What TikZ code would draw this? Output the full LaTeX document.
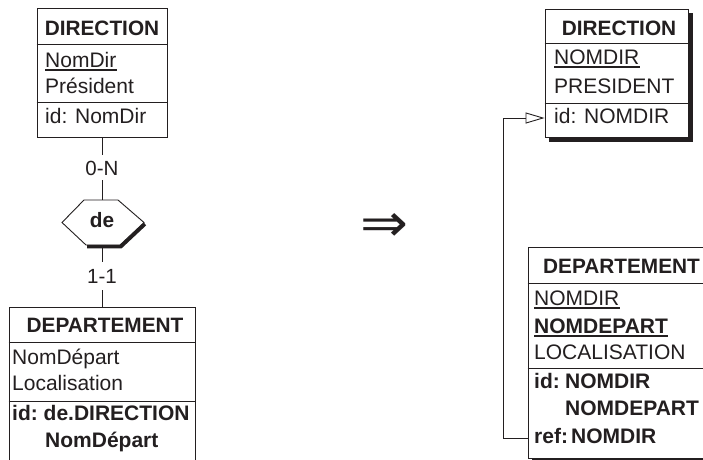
\documentclass[tikz,border=0pt]{standalone}
\usepackage{fontspec}
\setmainfont{Liberation Sans}
\newfontfamily\dejavu{DejaVu Sans}
\usetikzlibrary{arrows.meta,backgrounds}
\definecolor{ink}{RGB}{35,31,32}
\begin{document}
\begin{tikzpicture}[x=1pt,y=-1pt,
  every node/.style={inner sep=0pt, text=ink},
  ent/.style={draw=ink, line width=0.9pt, fill=white},
  txt/.style={font=\fontsize{21}{24}\selectfont, anchor=base west},
  bt/.style={txt, font=\fontsize{21}{24}\selectfont\bfseries},
  hd/.style={font=\fontsize{20.8}{24}\selectfont\bfseries, anchor=base},
  card/.style={font=\fontsize{20.5}{24}\selectfont, anchor=base, inner xsep=2pt, inner ysep=5pt},
  sepline/.style={draw=ink, line width=0.9pt},
  conn/.style={draw=ink, line width=0.9pt},
  ul/.style={draw=ink, line width=1.4pt},
  ulb/.style={draw=ink, line width=2pt},
]
\useasboundingbox (0,0) rectangle (703,459);
\begin{scope}[on background layer]
  \fill[white] (0,0) rectangle (703,459);
\end{scope}
\clip (0,0) rectangle (703,459);

% ---------- left DIRECTION ----------
\node[ent, minimum width=130pt, minimum height=129pt] (dirL) at (102,72.5) {};
\draw[sepline] (dirL.west |- 0,44) -- (dirL.east |- 0,44);
\draw[sepline] (dirL.west |- 0,102) -- (dirL.east |- 0,102);
\node[hd] (dirLh) at (102,35) {DIRECTION};
\node[txt] (dirLa) at (45,67) {NomDir};
\draw[ul] ([yshift=-2.5pt]dirLa.south west) -- ([yshift=-2.5pt]dirLa.south east);
\node[txt] (dirLb) at (45,93) {Président};
\node[txt] (dirLi) at (45,123) {id: NomDir};

% ---------- relationship de ----------
\draw[sepline, fill=white] (62,222.5) -- (84,200) -- (118,200) -- (144,222.5) -- (120,245) -- (86,245) -- cycle;
\draw[ink, line width=3.5pt, line join=miter] (87,246.5) -- (121,246.5) -- (145,224);
\node[minimum width=82pt, minimum height=45pt] (rel) at (102,222.5) {};
\node[hd] (relt) at (102,227) {de};

\node[card] (c1) at (102,175) {0-N};
\node[card, inner ysep=7pt] (c2) at (102,283) {1-1};

% ---------- left DEPARTEMENT ----------
\node[ent, minimum width=186pt, minimum height=163pt] (depL) at (102,388.5) {};
\draw[sepline] (depL.west |- 0,342) -- (depL.east |- 0,342);
\draw[sepline] (depL.west |- 0,401) -- (depL.east |- 0,401);
\node[hd] (depLh) at (105,332) {DEPARTEMENT};
\node[txt] (depLa) at (12,364) {NomDépart};
\node[txt] (depLb) at (12,390) {Localisation};
\node[bt] (depLi) at (12,420) {id:};
\node[bt] (depLi1) at (43.5,420) {de.DIRECTION};
\node[bt] (depLi2) at (45,447) {NomDépart};

\draw[conn] (dirL.south) -- (c1.north);
\draw[conn] (c1.south) -- (rel.north);
\draw[conn] (rel.south) -- (c2.north);
\draw[conn] (c2.south) -- (depL.north);

% ---------- transformation arrow ----------
\node[text=ink] (arr) at (384,227) {\resizebox{48pt}{28pt}{\dejavu ⇒}};

% ---------- right DIRECTION ----------
\node[ent, minimum width=143pt, minimum height=128pt] (dirR) at (616.5,73) {};
\draw[sepline] (dirR.west |- 0,43) -- (dirR.east |- 0,43);
\draw[sepline] (dirR.west |- 0,103) -- (dirR.east |- 0,103);
\node[hd] (dirRh) at (619,35) {DIRECTION};
\node[txt] (dirRa) at (554,64) {NOMDIR};
\draw[ul] ([yshift=-2.5pt]dirRa.south west) -- ([yshift=-2.5pt]dirRa.south east);
\node[txt] (dirRb) at (554,93) {PRESIDENT};
\node[txt] (dirRi) at (554,123) {id: NOMDIR};

% ---------- right DEPARTEMENT ----------
\node[ent, minimum width=184pt, minimum height=211pt] (depR) at (620,352.5) {};
\draw[sepline] (depR.west |- 0,283) -- (depR.east |- 0,283);
\draw[sepline] (depR.west |- 0,368) -- (depR.east |- 0,368);
\node[hd] (depRh) at (621.5,273) {DEPARTEMENT};
\node[txt] (depRa) at (534,305) {NOMDIR};
\draw[ul] ([yshift=-2.5pt]depRa.south west) -- ([yshift=-2.5pt]depRa.south east);
\node[bt] (depRb) at (534,333) {NOMDEPART};
\draw[ulb] ([yshift=-2.8pt]depRb.south west) -- ([yshift=-2.8pt]depRb.south east);
\node[txt] (depRc) at (534,359) {LOCALISATION};
\node[bt] (depRi) at (534,388) {id:};
\node[bt] (depRi1) at (565,388) {NOMDIR};
\node[bt] (depRi2) at (565,415) {NOMDEPART};
\node[bt] (depRr) at (534,443) {ref:};
\node[bt] (depRr1) at (571,443) {NOMDIR};

\begin{scope}[on background layer]
  \fill[ink] ([shift={(4.5,4.5)}]dirR.north west) rectangle ([shift={(4.5,4.5)}]dirR.south east);
  \fill[ink] ([shift={(4.5,4.5)}]depR.north west) rectangle ([shift={(4.5,4.5)}]depR.south east);
\end{scope}

% ---------- reference connector ----------
\draw[conn, -{Triangle[open, length=19pt, width=11pt]}]
  (depR.west |- 0,438) -- ++(-24,0) |- (dirR.west |- 0,118);
\end{tikzpicture}
\end{document}
